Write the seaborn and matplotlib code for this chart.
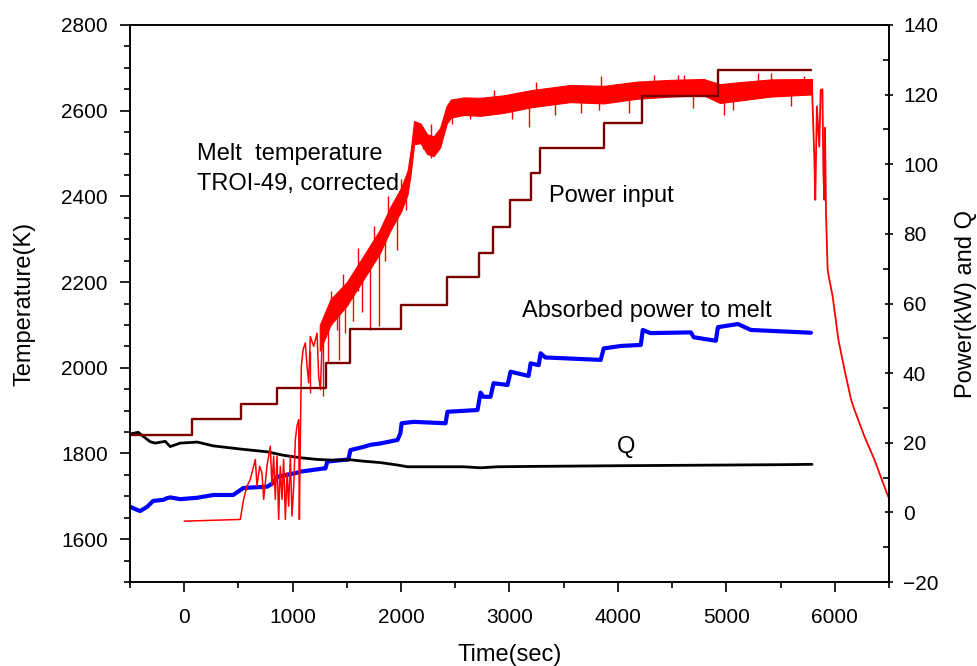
import numpy as np
import pandas as pd
import matplotlib
matplotlib.use("Agg")
import matplotlib.pyplot as plt
from matplotlib.ticker import MultipleLocator
import seaborn as sns

# ---------------- data ----------------
# Melt temperature (K), noisy early part as a traced line
temp_t = [0, 517, 548, 579, 609, 656, 671, 696, 717, 733, 763, 794, 809, 825, 840, 856,
          871, 886, 902, 917, 933, 948, 963, 979, 994, 1010, 1025, 1040, 1056, 1062, 1071,
          1080, 1096, 1117, 1133, 1148, 1163, 1194, 1225, 1240, 1256, 1271, 1287, 1317]
temp_T = [1642, 1646, 1693, 1724, 1739, 1786, 1724, 1770, 1755, 1693, 1770, 1817, 1724, 1794,
          1693, 1794, 1646, 1770, 1693, 1786, 1646, 1755, 1677, 1794, 1654, 1724, 1833, 1864,
          1879, 1646, 1833, 2003, 2042, 2058, 2003, 1965, 2073, 2050, 2081, 1980, 1949, 2050,
          2089, 2128]

# Melt temperature noise band (lower / upper envelope)
band_t = [1250, 1350, 1500, 1600, 1700, 1800, 1900, 2000, 2060, 2090, 2120, 2180, 2240, 2300,
          2360, 2420, 2460, 2580, 2730, 2950, 3200, 3560, 3870, 4180, 4490, 4790, 4940, 5100,
          5410, 5790]
band_lo = [2040, 2100, 2145, 2185, 2225, 2265, 2320, 2365, 2405, 2455, 2522, 2524, 2499, 2494,
           2514, 2569, 2584, 2590, 2588, 2595, 2608, 2620, 2617, 2628, 2633, 2636, 2618, 2623,
           2633, 2638]
band_hi = [2100, 2160, 2200, 2240, 2280, 2320, 2375, 2420, 2460, 2510, 2576, 2570, 2545, 2540,
           2560, 2611, 2626, 2631, 2630, 2636, 2648, 2660, 2658, 2668, 2672, 2674, 2662, 2666,
           2673, 2674]

# Isolated spikes of the temperature signal
spike_t = [1163, 1280, 1330, 1350, 1410, 1425, 1460, 1480, 1560, 1600, 1640, 1717, 1750, 1795,
           1850, 1880, 1962, 2000, 2041, 2200, 2280, 2470, 2640, 2855, 3020, 3176, 3240, 3420,
           3656, 3823, 3841, 4100, 4330, 4550, 4608, 4690, 4980, 5060, 5290, 5411, 5600, 5716]
spike_lo = [1941, 1934, 2010, 2100, 2089, 2019, 2150, 2080, 2110, 2180, 2130, 2089, 2260, 2097,
            2250, 2320, 2276, 2380, 2369, 2510, 2490, 2570, 2580, 2600, 2580, 2563, 2620, 2590,
            2595, 2602, 2625, 2595, 2640, 2640, 2640, 2606, 2590, 2602, 2645, 2645, 2610, 2645]
spike_hi = [2040, 2070, 2120, 2180, 2150, 2150, 2220, 2170, 2200, 2280, 2240, 2250, 2330, 2290,
            2340, 2400, 2380, 2440, 2420, 2560, 2570, 2625, 2630, 2648, 2610, 2610, 2668, 2625,
            2640, 2640, 2680, 2640, 2683, 2683, 2683, 2650, 2630, 2640, 2688, 2687, 2650, 2680]

# Temperature after shutdown
tail_t = [5790, 5811, 5820, 5835, 5857, 5870, 5886, 5895, 5903, 5910, 5919, 5934, 5950, 5980,
          6033, 6090, 6150, 6180, 6273, 6365, 6482, 6500]
tail_T = [2655, 2493, 2392, 2610, 2516, 2648, 2650, 2454, 2392, 2560, 2361, 2229, 2206, 2167,
          2066, 1995, 1926, 1903, 1840, 1786, 1706, 1695]

# Power input (kW), stepwise
step_t = [-500, 71, 526, 856, 1308, 1533, 1995, 2425, 2715, 2844, 3001, 3195, 3278, 3869,
          4220, 4922, 5780]
step_P = [22.2, 26.7, 31.1, 35.8, 43.0, 52.6, 59.6, 67.5, 74.6, 82.0, 89.7, 97.5, 104.7,
          111.8, 119.6, 127.1, 127.1]

# Absorbed power to melt (kW)
abs_t = [-499, -434, -406, -342, -286, -194, -157, -129, -37, 120, 268, 452, 545, 766, 822,
         859, 1043, 1071, 1283, 1302, 1320, 1514, 1533, 1653, 1717, 1810, 1967, 1994, 2005,
         2115, 2410, 2428, 2705, 2733, 2760, 2825, 2853, 2982, 3010, 3176, 3195, 3269, 3287,
         3330, 3841, 3869, 4026, 4211, 4229, 4300, 4672, 4700, 4903, 4922, 5106, 5226, 5780]
abs_P = [1.6, 0.7, 0.4, 1.6, 3.3, 3.6, 4.1, 4.3, 3.8, 4.2, 5.0, 5.0, 7.0, 7.4, 8.5,
         10.2, 11.4, 11.7, 12.6, 12.6, 14.6, 15.2, 17.9, 18.8, 19.4, 19.8, 20.8, 22.7, 25.6,
         26.0, 25.6, 28.9, 29.4, 34.4, 33.2, 33.2, 37.1, 36.6, 40.4, 39.2, 42.8, 42.3, 45.7,
         44.5, 43.8, 47.1, 47.8, 48.1, 52.4, 51.5, 51.7, 50.3, 49.3, 53.2, 54.1, 52.4, 51.6]

# Q
q_t = [-500, -425, -314, -268, -175, -129, -37, 120, 268, 545, 766, 914, 1071, 1228, 1376,
       1533, 1653, 1810, 1967, 2059, 2271, 2576, 2733, 2890, 3195, 3600, 4000, 4500, 5000,
       5500, 5790]
q_P = [22.5, 23.0, 20.3, 19.9, 20.4, 18.9, 19.9, 20.2, 19.1, 18.1, 17.4, 16.4, 15.7, 15.2,
       15.0, 15.1, 14.7, 14.3, 13.6, 13.1, 13.1, 13.1, 12.8, 13.1, 13.2, 13.3, 13.4, 13.5,
       13.6, 13.7, 13.8]

# ---------------- style ----------------
sns.set_theme(style="ticks")
plt.rcParams["font.family"] = ["Liberation Sans", "DejaVu Sans"]
for k in ("text.color", "axes.labelcolor", "xtick.color", "ytick.color", "axes.edgecolor"):
    plt.rcParams[k] = "black"

RED = "#ff0000"
DARKRED = "#7a0000"
BLUE = "#0000ff"

fig = plt.figure(figsize=(9.78, 6.66), dpi=100)
pos = [130 / 978, 1 - 582 / 666, (889 - 130) / 978, (582 - 25) / 666]

ax = fig.add_axes(pos)            # temperature axis
axb = ax.twinx()                  # power axis (blue/black, behind)
axt = ax.twinx()                  # power axis (power input, front, with ticks)

axb.set_zorder(1)
ax.set_zorder(2)
axt.set_zorder(3)
for a in (ax, axb, axt):
    a.patch.set_visible(False)
fig.patch.set_facecolor("white")

# blue & black
sns.lineplot(x=abs_t, y=abs_P, ax=axb, color=BLUE, linewidth=3.0, estimator=None, sort=False)
sns.lineplot(x=q_t, y=q_P, ax=axb, color="black", linewidth=2.0, estimator=None, sort=False)

# red temperature
ax.fill_between(band_t, band_lo, band_hi, color=RED, linewidth=0.8, edgecolor=RED)
ax.vlines(spike_t, spike_lo, spike_hi, color=RED, linewidth=1.0)
sns.lineplot(x=temp_t, y=temp_T, ax=ax, color=RED, linewidth=1.1, estimator=None, sort=False)
sns.lineplot(x=tail_t, y=tail_T, ax=ax, color=RED, linewidth=1.3, estimator=None, sort=False)

# power input steps
sns.lineplot(x=step_t, y=step_P, ax=axt, color=DARKRED, linewidth=1.7, estimator=None,
             sort=False, drawstyle="steps-post")

# ---------------- axes ----------------
ax.set_xlim(-500, 6500)
ax.set_ylim(1500, 2800)
for a in (axb, axt):
    a.set_ylim(-20, 140)
    a.set_xlim(-500, 6500)

ax.xaxis.set_major_locator(MultipleLocator(1000))
ax.xaxis.set_minor_locator(MultipleLocator(500))
ax.yaxis.set_major_locator(MultipleLocator(200))
ax.yaxis.set_minor_locator(MultipleLocator(50))
axt.yaxis.set_major_locator(MultipleLocator(20))
axt.yaxis.set_minor_locator(MultipleLocator(10))

ax.tick_params(axis="x", which="major", direction="out", length=7, width=1.2, pad=12,
               labelsize=15, top=False)
ax.tick_params(axis="x", which="minor", direction="out", length=4, width=1.2, top=False)
ax.tick_params(axis="y", which="major", direction="out", length=7, width=1.2, pad=9,
               labelsize=15, right=False)
ax.tick_params(axis="y", which="minor", direction="out", length=4, width=1.2, right=False)
axt.tick_params(axis="y", which="major", direction="inout", length=6, width=1.2, pad=7,
                labelsize=15, left=False)
axt.tick_params(axis="y", which="minor", direction="in", length=4, width=1.2, left=False)

axb.set_axis_off()
axt.tick_params(axis="x", which="both", bottom=False, top=False, labelbottom=False)

for a in (ax, axt):
    for s in a.spines.values():
        s.set_linewidth(1.2)
        s.set_color("black")
        s.set_visible(True)

ax.set_xlabel("Time(sec)", fontsize=17)
ax.set_ylabel("Temperature(K)", fontsize=17)
axt.set_ylabel("Power(kW) and Q", fontsize=17)
ax.xaxis.set_label_coords(0.5, -0.112)
ax.yaxis.set_label_coords(-0.125, 0.5)
axt.yaxis.set_label_coords(1.087, 0.5)
axb.set_ylabel("")

# annotations
fs = 17
ax.text(120, 2485, "Melt  temperature", fontsize=fs, va="baseline", ha="left", zorder=5)
ax.text(120, 2415, "TROI-49, corrected", fontsize=fs, va="baseline", ha="left", zorder=5)
ax.text(3361, 2386, "Power input", fontsize=fs, va="baseline", ha="left", zorder=5)
ax.text(3118, 2119, "Absorbed power to melt", fontsize=fs, va="baseline", ha="left", zorder=5)
ax.text(3989, 1802, "Q", fontsize=fs, va="baseline", ha="left", zorder=5)

fig.savefig("out.png", dpi=100, facecolor="white")
